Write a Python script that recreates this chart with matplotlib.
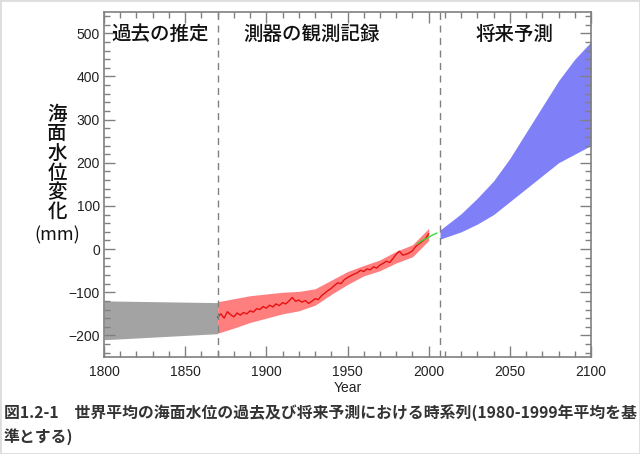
import matplotlib
matplotlib.use("Agg")
import matplotlib.pyplot as plt
from matplotlib.patches import Rectangle
from matplotlib.ticker import MultipleLocator

plt.rcParams['font.family'] = ['Liberation Sans', 'Noto Sans CJK JP', 'DejaVu Sans']
JP = ['Noto Sans CJK JP', 'DejaVu Sans']

# ---- data ----
past_years = [1800, 1870]
past_upper = [-120, -124]
past_lower = [-210, -196]

obs_years = [1870, 1872, 1874, 1876, 1878, 1880, 1882, 1884, 1886, 1888,
             1890, 1892, 1894, 1896, 1898, 1900, 1902, 1904, 1906, 1908,
             1910, 1912, 1914, 1916, 1918, 1920, 1922, 1924, 1926, 1928,
             1930, 1932, 1934, 1936, 1938, 1940, 1942, 1944, 1946, 1948,
             1950, 1952, 1954, 1956, 1958, 1960, 1962, 1964, 1966, 1968,
             1970, 1972, 1974, 1976, 1978, 1980, 1982, 1984, 1986, 1988,
             1990, 1992, 1994, 1996, 1998, 2000]
obs_values = [-158, -150, -160, -145, -152, -157, -148, -153, -147, -150,
              -143, -146, -138, -140, -133, -137, -130, -134, -127, -131,
              -124, -127, -120, -112, -121, -118, -123, -119, -126, -121,
              -115, -117, -108, -102, -96, -91, -84, -78, -80, -71,
              -66, -62, -58, -55, -49, -52, -46, -48, -41, -44,
              -37, -33, -28, -31, -22, -12, -5, -14, -12, -9,
              -4, 6, 12, 18, 24, 35]

band_years = [1870, 1880, 1890, 1900, 1910, 1920, 1930, 1940, 1950, 1960,
              1970, 1980, 1990, 2000]
band_upper = [-122, -115, -108, -104, -100, -98, -92, -72, -52, -38,
              -25, -5, 10, 48]
band_lower = [-195, -183, -170, -160, -150, -143, -130, -105, -82, -62,
              -50, -32, -18, 20]

sat_years = [1993, 1996, 1999, 2002, 2005]
sat_values = [12, 20, 25, 32, 37]

proj_years = [2007, 2020, 2030, 2040, 2050, 2060, 2070, 2080, 2090, 2100]
proj_upper = [44, 82, 118, 158, 210, 270, 330, 390, 440, 480]
proj_lower = [23, 40, 58, 80, 110, 140, 170, 200, 220, 240]

divider_years = [1870, 2007]
x_ticks = [1800, 1850, 1900, 1950, 2000, 2050, 2100]
y_ticks = [-200, -100, 0, 100, 200, 300, 400, 500]
section_labels = ['過去の推定', '測器の観測記録', '将来予測']
section_x = [1834.5, 1928, 2053]
ylabel_chars = ['海', '面', '水', '位', '変', '化']
caption = '図1.2-1　世界平均の海面水位の過去及び将来予測における時系列(1980-1999年平均を基\n準とする)'

# ---- figure ----
fig = plt.figure(figsize=(6.4, 4.54), dpi=100)
ax = fig.add_axes([104/640, 1-357/454, (591-104)/640, (357-11.7)/454])

ax.fill_between(past_years, past_lower, past_upper, color='#a3a3a3', lw=0)
ax.fill_between(band_years, band_lower, band_upper, color='#ff7f7f', lw=0)
ax.plot(obs_years, obs_values, color='#e81010', lw=1.0)
ax.plot(sat_years, sat_values, color='#33dd33', lw=1.0)
ax.fill_between(proj_years, proj_lower, proj_upper, color='#7f7ff7', lw=0)

for yr in divider_years:
    ax.axvline(yr, color='#808080', lw=1.0, ls=(0, (5, 4)))

ax.set_xlim(1800, 2100)
ax.set_ylim(-250, 550)
ax.set_xticks(x_ticks)
ax.set_yticks(y_ticks)
ax.xaxis.set_minor_locator(MultipleLocator(10))
ax.yaxis.set_minor_locator(MultipleLocator(20))
ax.tick_params(which='both', direction='in', top=True, right=True,
               color='#808080', labelsize=10, labelcolor='#222222')
ax.tick_params(which='major', length=8, width=1)
ax.tick_params(which='minor', length=4, width=1)
ax.tick_params(axis='x', pad=6)
ax.tick_params(axis='y', pad=3)
for s in ax.spines.values():
    s.set_color('#808080')
    s.set_linewidth(1.2)

ax.set_xlabel('Year', fontsize=10, color='#222222', labelpad=1)

for lab, x in zip(section_labels, section_x):
    ax.text(x, 497, lab, family=JP, fontsize=14, fontweight='medium',
            ha='center', va='center', color='#111111')

for i, ch in enumerate(ylabel_chars):
    fig.text(57/640, 1 - (114 + i*19.7)/454, ch, family=JP, fontsize=14,
             fontweight='medium', ha='center', va='center', color='#111111')
fig.text(57/640, 1 - 235/454, '(mm)', family=JP, fontsize=13,
         ha='center', va='center', color='#111111')

fig.text(4/640, 1 - 404/454, caption, family=JP, fontsize=11.4,
         fontweight='bold', ha='left', va='top', color='#333333',
         linespacing=1.5)

fig.patches.append(Rectangle((0, 0), 1, 1, transform=fig.transFigure,
                             fill=False, edgecolor='#dddddd', lw=2))

fig.savefig('out.png', dpi=100)
